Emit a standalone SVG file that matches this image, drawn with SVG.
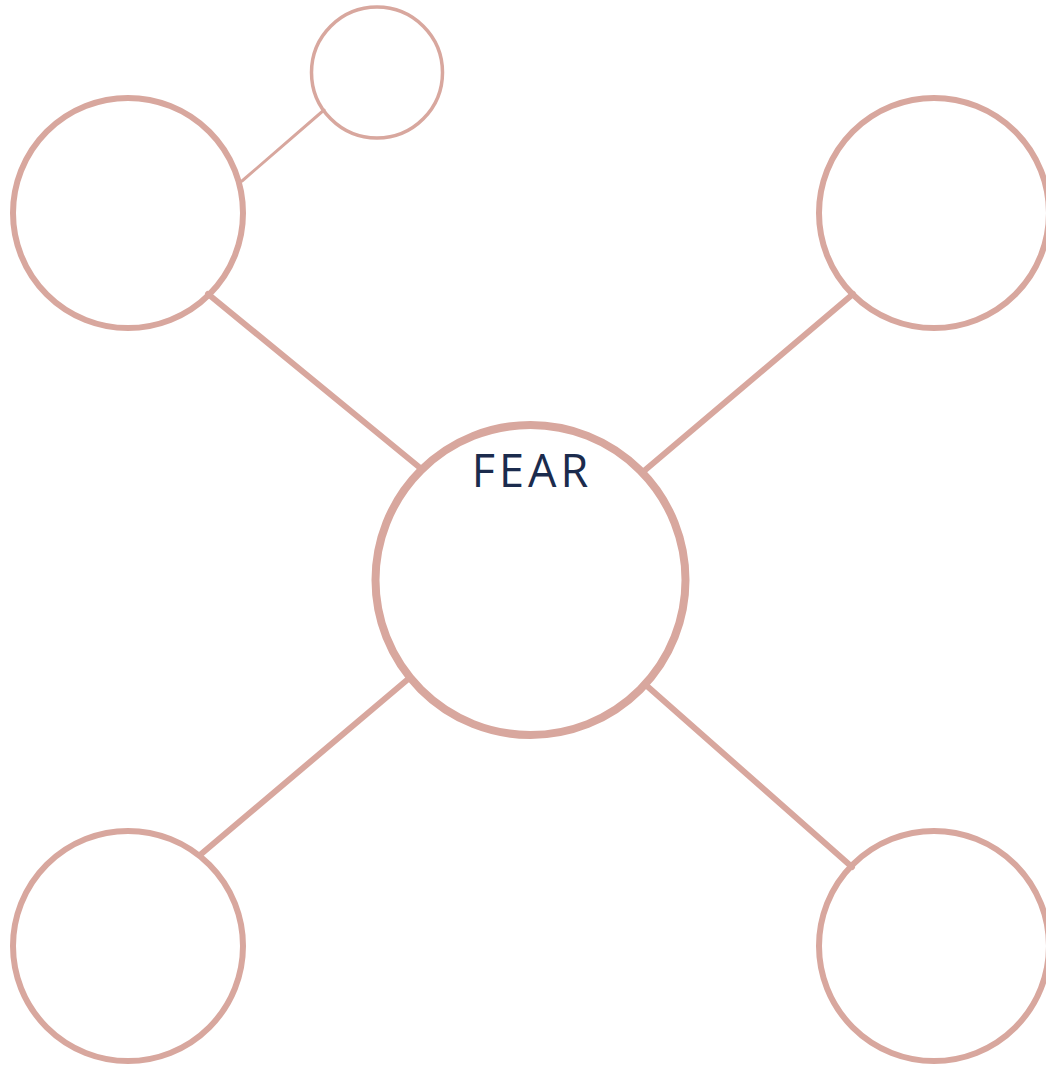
<svg xmlns="http://www.w3.org/2000/svg" width="1046" height="1065" viewBox="0 0 1046 1065">
<style>
.n{fill:#ffffff;stroke:#d8a79e}
.c{stroke:#d8a79e;stroke-linecap:round;fill:none}
.t{font-family:"Open Sans","Liberation Sans",sans-serif;font-weight:400;font-size:45px;fill:#1b2b4d;text-anchor:middle;letter-spacing:4px}
</style>
<rect width="1046" height="1065" fill="#ffffff"/>
<g id="node-center"><circle class="n" cx="530.5" cy="580" r="155" stroke-width="8"/><text class="t" x="532" y="487">FEAR</text></g>
<g id="node-tl"><circle class="n" cx="128" cy="213" r="115" stroke-width="6"/></g>
<g id="node-tr"><circle class="n" cx="934" cy="213" r="115" stroke-width="6"/></g>
<g id="node-bl"><circle class="n" cx="128" cy="946" r="115" stroke-width="6"/></g>
<g id="node-br"><circle class="n" cx="934" cy="946" r="115" stroke-width="6"/></g>
<g id="node-small"><circle class="n" cx="377" cy="72.5" r="65.5" stroke-width="3.5"/></g>
<g id="connectors">
<line class="c" x1="242" y1="181" x2="324" y2="110" stroke-width="3"/>
<line class="c" x1="208" y1="294" x2="419" y2="467" stroke-width="6"/>
<line class="c" x1="853" y1="294" x2="644" y2="471" stroke-width="6"/>
<line class="c" x1="200" y1="855" x2="407" y2="680" stroke-width="6"/>
<line class="c" x1="852" y1="867" x2="647" y2="686" stroke-width="6"/>
</g>
</svg>
